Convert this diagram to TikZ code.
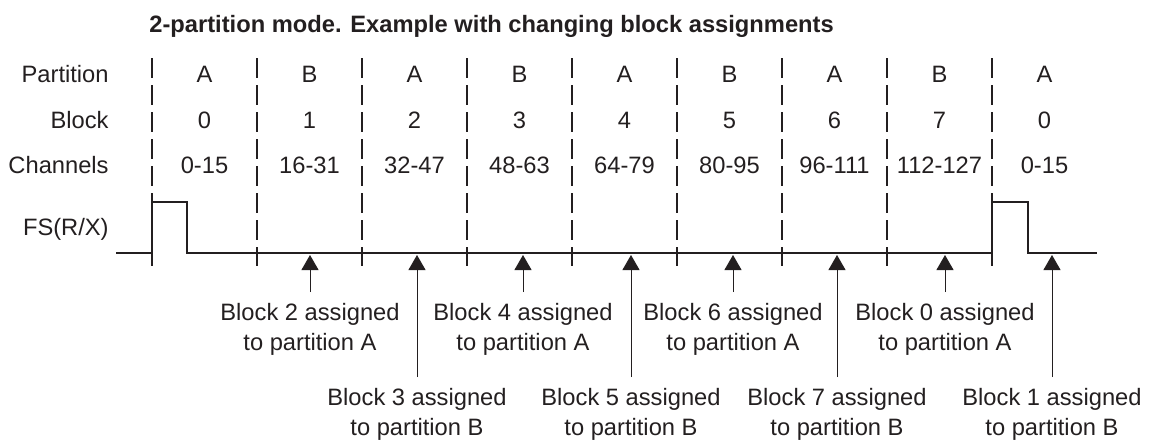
\documentclass[tikz,border=0pt]{standalone}
\usepackage{fontspec}
\setmainfont{Liberation Sans}
\usetikzlibrary{arrows.meta}
\definecolor{ink}{HTML}{231F20}
\begin{document}
\begin{tikzpicture}[x=0.5pt,y=-0.5pt,
  every node/.style={text=ink, inner sep=0pt, font=\fontsize{11.85}{15}\selectfont},
  rowlabel/.style={anchor=base east},
  cell/.style={anchor=base},
  divider/.style={draw=ink, line width=0.55pt, dash pattern=on 9.8pt off 3.7pt},
  signal/.style={draw=ink, line width=1.1pt, line join=miter},
  pointer/.style={draw=ink, line width=0.5pt, -{Triangle[length=7.5pt,width=8.5pt]}},
  note/.style={anchor=north, align=center, inner ysep=5.5pt, inner xsep=0pt}
]
\useasboundingbox (0,0) rectangle (1164,440);

\node[anchor=base west, font=\bfseries\fontsize{11.85}{15}\selectfont] (title) at (149,32)
  {2-partition mode. Example with changing block assignments};

\node[rowlabel] (lpart) at (109,82) {Partition};
\node[rowlabel] (lblock) at (109,128) {Block};
\node[rowlabel] (lchan) at (109,173.5) {Channels};
\node[rowlabel] (lfs) at (109,235) {FS(R/X)};

% dividers
\foreach \k in {0,...,8}{
  \coordinate (dt\k) at (152+105*\k,58);
  \coordinate (db\k) at (152+105*\k,266);
  \draw[divider] (dt\k) -- (db\k);
}

% cells
\foreach \p [count=\i from 0] in {A,B,A,B,A,B,A,B,A}{
  \node[cell] (p\i) at (204.5+105*\i,82) {\p};
}
\foreach \b [count=\i from 0] in {0,1,2,3,4,5,6,7,0}{
  \node[cell] (b\i) at (204.5+105*\i,128) {\b};
}
\foreach \c [count=\i from 0] in {0-15,16-31,32-47,48-63,64-79,80-95,96-111,112-127,0-15}{
  \node[cell] (c\i) at (204.5+105*\i,173.5) {\c};
}

% signal
\coordinate (s0) at (116,253);
\coordinate (s1) at (152,253);
\coordinate (s2) at (152,202);
\coordinate (s3) at (187,202);
\coordinate (s4) at (187,253);
\coordinate (s5) at (992,253);
\coordinate (s6) at (992,202);
\coordinate (s7) at (1028,202);
\coordinate (s8) at (1028,253);
\coordinate (s9) at (1097,253);
\draw[signal] (s0) -- (s1) -- (s2) -- (s3) -- (s4) -- (s5) -- (s6) -- (s7) -- (s8) -- (s9);

% pointers and notes
\foreach \x/\blk/\part/\y [count=\i] in {310/2/A/292, 417/3/B/377, 523/4/A/292, 631/5/B/377,
    733/6/A/292, 837/7/B/377, 945/0/A/292, 1052/1/B/377}{
  \coordinate (t\i) at (\x,255);
  \node[note] (n\i) at (\x,\y) {Block \blk\ assigned\\to partition \part};
  \draw[pointer] (n\i.north) -- (t\i);
}
\end{tikzpicture}
\end{document}
